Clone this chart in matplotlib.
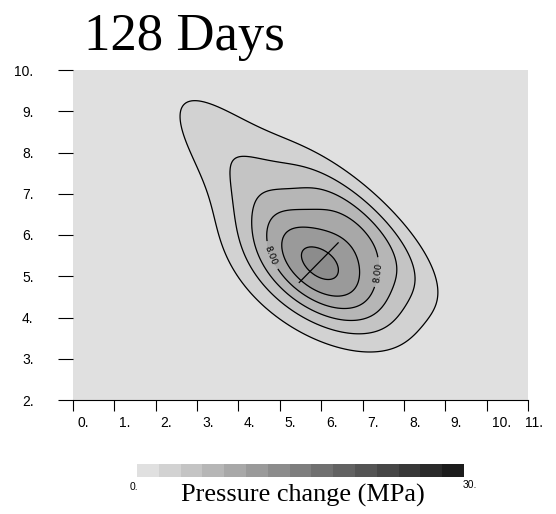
import numpy as np
import matplotlib
matplotlib.use('Agg')
import matplotlib.pyplot as plt
from matplotlib.transforms import ScaledTranslation

# pressure plume after 128 days, built from three elliptical gaussian sources
src_x = [6.015, 6.836, 4.441]
src_y = [5.149, 6.374, 7.216]
src_amp = [10.52, 4.82, 3.80]      # MPa
src_major = [1.419, 1.575, 2.305]
src_minor = [0.840, 0.522, 0.720]
src_angle = [-32.9, -44.0, -48.2]  # degrees

# trace drawn through the centre of the plume
fault_x = [5.47, 6.41]
fault_y = [4.85, 5.81]

levels = np.arange(0, 32, 2)
xticks = np.arange(0, 12)
yticks = np.arange(2, 11)


def pressure(x, y):
    p = np.zeros_like(x)
    for x0, y0, a, sa, sb, th in zip(src_x, src_y, src_amp, src_major, src_minor, src_angle):
        t = np.radians(th)
        u = (x - x0) * np.cos(t) + (y - y0) * np.sin(t)
        v = -(x - x0) * np.sin(t) + (y - y0) * np.cos(t)
        p += a * np.exp(-0.5 * ((u / sa) ** 2 + (v / sb) ** 2))
    return p


X, Y = np.meshgrid(np.linspace(0, 11, 441), np.linspace(2, 10, 321))
Z = pressure(X, Y)

grays = np.linspace(224, 28, 15) / 255
colors = [(g, g, g) for g in grays]

fig = plt.figure(figsize=(5.56, 5.14), dpi=100)
ax = fig.add_axes([73 / 556, 1 - 400 / 514, 455 / 556, 330 / 514])
ax.set_facecolor(colors[0])
cf = ax.contourf(X, Y, Z, levels=levels, colors=colors)
ax.contour(X, Y, Z, levels=[2, 4, 6, 10, 12], colors='black', linewidths=0.9)
cs8 = ax.contour(X, Y, Z, levels=[8], colors='black', linewidths=0.9)
cs8.clabel(fmt='%.2f', fontsize=6.5, inline=True, manual=[(4.71, 5.47), (7.35, 5.10)])
ax.plot(fault_x, fault_y, color='black', lw=0.9)
ax.set_xlim(0, 11)
ax.set_ylim(2, 10)

for s in ['top', 'right', 'left']:
    ax.spines[s].set_visible(False)
ax.spines['bottom'].set_linewidth(0.8)
ax.set_xticks(xticks)
ax.set_xticklabels(['%d.' % i for i in xticks], family='Liberation Sans')
ax.set_yticks(yticks)
ax.set_yticklabels(['%d.' % i for i in yticks], family='Liberation Sans')
ax.tick_params(axis='x', direction='out', length=8, width=0.8, pad=3.6, labelsize=10)
ax.tick_params(axis='y', direction='out', length=11, width=0.8, pad=17.4, labelsize=10)
xlabs = ax.get_xticklabels()
for i, lab in enumerate(xlabs):
    lab.set_ha('left')
    dx = -3 if i == len(xlabs) - 1 else 5
    lab.set_transform(lab.get_transform() + ScaledTranslation(dx / 100, 0, fig.dpi_scale_trans))

# colour bar along the bottom
cax = fig.add_axes([137 / 556, 1 - 477 / 514, 327 / 556, 13 / 514])
cb = fig.colorbar(cf, cax=cax, orientation='horizontal')
cb.outline.set_visible(False)
cax.set_xticks([])
fig.text(134 / 556, 1 - 490 / 514, '0.', family='Liberation Sans', fontsize=7.5,
         ha='center', va='baseline')
fig.text(463 / 556, 1 - 488 / 514, '30.', family='Liberation Sans', fontsize=7.5,
         ha='left', va='baseline')
fig.text(303 / 556, 1 - 502 / 514, 'Pressure change (MPa)', family='Liberation Serif',
         fontsize=18.9, ha='center', va='baseline')

fig.text(184 / 556, 1 - 50 / 514, '128 Days', family='Liberation Serif',
         fontsize=38, ha='center', va='baseline')

fig.savefig('out.png', dpi=100)
